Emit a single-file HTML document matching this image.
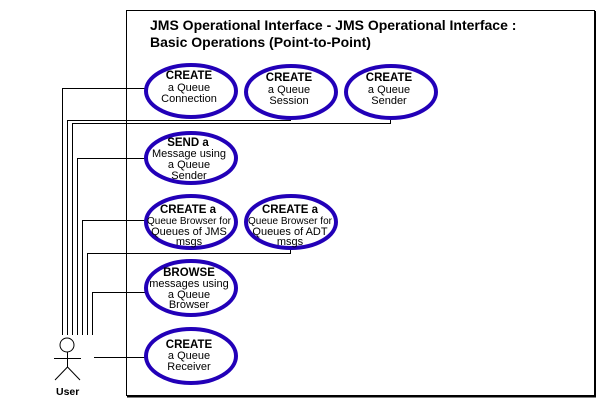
<!DOCTYPE html>
<html><head><style>
html,body{margin:0;padding:0;background:#fff;}
svg{display:block;}
text{font-family:"Liberation Sans",Arial,sans-serif;fill:#000;}
.t{font-weight:bold;font-size:14px;}
.b{font-weight:bold;font-size:11.5px;}
.n{font-size:11px;}
</style></head><body>
<svg width="602" height="404" viewBox="0 0 602 404">
<rect x="126.5" y="10.5" width="468" height="385" fill="none" stroke="#000" stroke-width="1"/>
<line x1="127" y1="396.5" x2="596" y2="396.5" stroke="#000" stroke-width="2"/>
<line x1="595.5" y1="11" x2="595.5" y2="397" stroke="#000" stroke-width="1"/>
<text class="t" x="150" y="30">JMS Operational Interface - JMS Operational Interface :</text>
<text class="t" x="150" y="47">Basic Operations (Point-to-Point)</text>
<g stroke="#000" stroke-width="1" fill="none">
<polyline points="62.5,335 62.5,88.5 147,88.5"/>
<polyline points="67.5,335 67.5,120.5 290.5,120.5 290.5,117"/>
<polyline points="72.5,335 72.5,123.5 390.5,123.5 390.5,117"/>
<polyline points="77.5,335 77.5,158.5 147,158.5"/>
<polyline points="82.5,335 82.5,220.5 147,220.5"/>
<polyline points="87.5,335 87.5,253.5 290.5,253.5 290.5,249"/>
<polyline points="92.5,335 92.5,292.5 147,292.5"/>
<line x1="94" y1="357.5" x2="147" y2="357.5"/>
<circle cx="67" cy="345" r="7"/>
<line x1="67.5" y1="352" x2="67.5" y2="367"/>
<line x1="54" y1="358.5" x2="81" y2="358.5"/>
<polyline points="55,380 67.5,367 80,380"/>
</g>
<text x="56" y="395" style="font-weight:bold;font-size:10.5px">User</text>
<g fill="#fff" stroke="#2200b8">
<g stroke-width="4">
<ellipse cx="191" cy="91" rx="45" ry="26"/>
<ellipse cx="291" cy="92" rx="45" ry="26"/>
<ellipse cx="391" cy="92" rx="45" ry="26"/>
<ellipse cx="191" cy="158" rx="45" ry="25"/>
<ellipse cx="191" cy="222" rx="45" ry="26"/>
<ellipse cx="291" cy="222" rx="45" ry="26"/>
<ellipse cx="191" cy="288" rx="45" ry="27"/>
<ellipse cx="191" cy="356" rx="45" ry="27"/>
</g>
</g>
<g text-anchor="middle">
<text class="b" x="189" y="79">CREATE</text><text class="n" x="189" y="91">a Queue</text><text class="n" x="189" y="102">Connection</text>
<text class="b" x="289" y="81">CREATE</text><text class="n" x="289" y="93">a Queue</text><text class="n" x="289" y="104">Session</text>
<text class="b" x="389" y="81">CREATE</text><text class="n" x="389" y="93">a Queue</text><text class="n" x="389" y="104">Sender</text>
<text class="b" x="188" y="146">SEND a</text><text class="n" x="189" y="157">Message using</text><text class="n" x="189" y="168">a Queue</text><text class="n" x="189" y="179">Sender</text>
<text class="b" x="188" y="213">CREATE a</text><text class="n" x="189" y="224" style="font-size:10px">Queue Browser for</text><text class="n" x="189" y="235">Queues of JMS</text><text class="n" x="189" y="245">msgs</text>
<text class="b" x="290" y="213">CREATE a</text><text class="n" x="290" y="224" style="font-size:10px">Queue Browser for</text><text class="n" x="290" y="235">Queues of ADT</text><text class="n" x="290" y="245">msgs</text>
<text class="b" x="189" y="276">BROWSE</text><text class="n" x="189" y="287">messages using</text><text class="n" x="189" y="298">a Queue</text><text class="n" x="189" y="308">Browser</text>
<text class="b" x="189" y="348">CREATE</text><text class="n" x="189" y="359">a Queue</text><text class="n" x="189" y="370">Receiver</text>
</g>
</svg>
</body></html>
